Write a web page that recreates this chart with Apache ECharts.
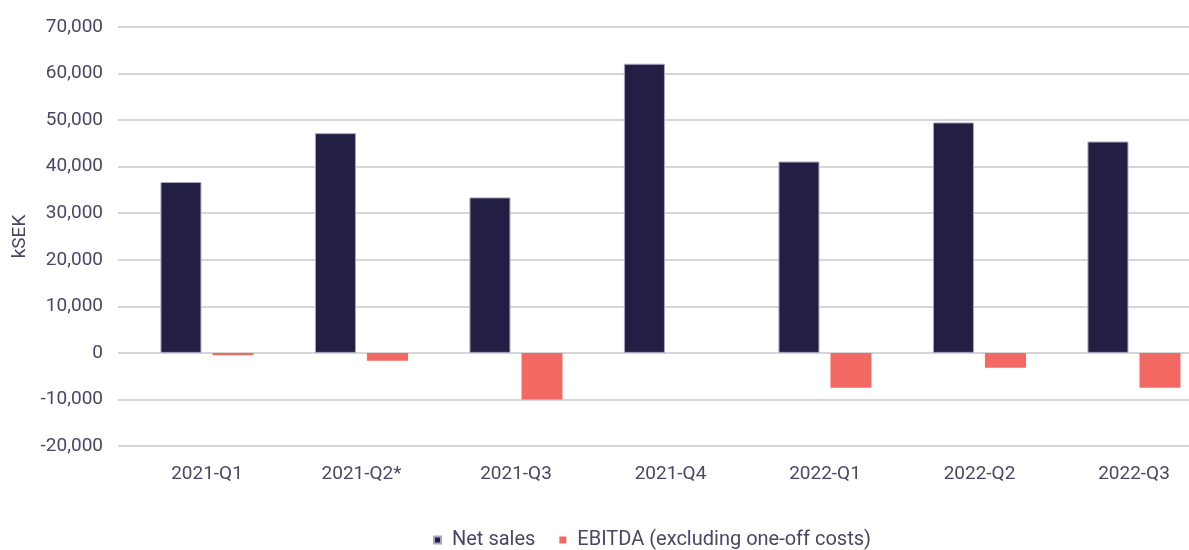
<!DOCTYPE html>
<html>
<head>
<meta charset="utf-8">
<title>Net sales and EBITDA</title>
<script src="https://cdn.jsdelivr.net/npm/echarts@6/dist/echarts.min.js"></script>
<style>
  html, body { margin: 0; padding: 0; background: #fff; }
  #J_chart { width: 1189px; height: 550px; }
</style>
</head>
<body>
<div id="J_chart"></div>
<script>
var quarters = ['2021-Q1', '2021-Q2*', '2021-Q3', '2021-Q4', '2022-Q1', '2022-Q2', '2022-Q3'];
var netSales = [36700, 47200, 33400, 62100, 41100, 49500, 45400];
var ebitda = [-500, -1700, -10000, 0, -7500, -3200, -7500];
var yMin = -20000, yMax = 70000, yStep = 10000;

var textColor = '#4a4766';
var font = 'Roboto';

function fmt (v) {
  return echarts.format.addCommas(v);
}

var chart = echarts.init(document.getElementById('J_chart'));
var option = {
  animation: false,
  // grid 0 only carries the gridlines and y labels, grid 1 places the bar pairs
  grid: [
    { left: 118, right: 0, top: 27, bottom: 104 },
    { left: 207, right: 55, top: 27, bottom: 104 }
  ],
  legend: {
    left: 428,
    bottom: -5,
    icon: 'rect',
    itemWidth: 7,
    itemHeight: 7,
    itemGap: 24,
    textStyle: { color: textColor, fontSize: 20, fontFamily: font, padding: [0, 0, 0, 6] },
    data: ['Net sales', 'EBITDA (excluding one-off costs)']
  },
  xAxis: [
    { gridIndex: 0, type: 'category', data: quarters, show: false },
    {
      gridIndex: 1,
      type: 'category',
      data: quarters,
      boundaryGap: false,
      axisLine: { show: false },
      axisTick: { show: false },
      splitLine: { show: false },
      axisLabel: { color: textColor, fontSize: 19, fontFamily: font, margin: 19 }
    }
  ],
  yAxis: [
    {
      gridIndex: 0,
      type: 'value',
      min: yMin,
      max: yMax,
      interval: yStep,
      name: 'kSEK',
      nameLocation: 'middle',
      nameGap: 85,
      nameTextStyle: { color: textColor, fontSize: 19, fontFamily: font },
      axisLine: { show: false },
      axisTick: { show: false },
      axisLabel: { color: textColor, fontSize: 19, fontFamily: font, margin: 15, formatter: fmt },
      splitLine: { lineStyle: { color: '#d6d6d6', width: 2 } }
    },
    { gridIndex: 1, type: 'value', min: yMin, max: yMax, interval: yStep, show: false, splitLine: { show: false } }
  ],
  series: [
    {
      name: 'Net sales',
      type: 'bar',
      xAxisIndex: 1,
      yAxisIndex: 1,
      clip: false,
      barWidth: 41,
      barGap: '27%',
      itemStyle: { color: '#221e44', borderColor: '#a9a6c2', borderWidth: 1 },
      data: netSales
    },
    {
      name: 'EBITDA (excluding one-off costs)',
      type: 'bar',
      xAxisIndex: 1,
      yAxisIndex: 1,
      clip: false,
      barWidth: 41,
      itemStyle: { color: '#f26964' },
      data: ebitda
    }
  ]
};
chart.setOption(option, true);
</script>
</body>
</html>
